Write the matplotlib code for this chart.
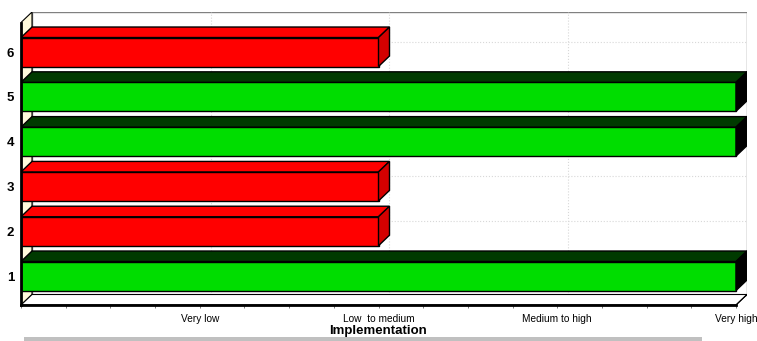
import matplotlib
matplotlib.use("Agg")
import matplotlib.pyplot as plt
from matplotlib.patches import Polygon, Rectangle
import numpy as np

plt.rcParams['font.family'] = ['Liberation Sans', 'DejaVu Sans']

# 数据
categories = [1, 2, 3, 4, 5, 6]
values = [4, 2, 2, 4, 4, 2]
level_labels = ['', 'Very low', 'Low  to medium', 'Medium to high', 'Very high']

# 颜色：正面 / 顶面 / 侧面
green = ('#00dd00', '#003a00', '#000000')
red = ('#ff0000', '#ff0000', '#d40000')

fig = plt.figure(figsize=(7.57, 3.41), dpi=100)
W, H = 757, 341
ax = fig.add_axes([21 / W, (H - 305) / H, 726 / W, 293 / H])

# 伪3D深度（数据单位）
dx = 11 / 178.75
dy = 10.5 / 44.8
y0 = 0.353
ytop = y0 + 293 / 44.8
xmax = 4
ax.set_xlim(0, xmax + dx)
ax.set_ylim(y0, ytop)

# 背板和网格线
ax.add_patch(Polygon([(dx, y0 + dy), (xmax + dx, y0 + dy), (xmax + dx, ytop), (dx, ytop)],
                     closed=True, facecolor='white', edgecolor='#808080', lw=1, zorder=1))
for k in range(1, xmax):
    ax.plot([k + dx, k + dx], [y0 + dy, ytop], color='#d8d8d8', lw=0.8, ls=':', zorder=1.5)
    ax.plot([k, k + dx], [y0, y0 + dy], color='#d8d8d8', lw=0.8, zorder=1.5)
for c in categories:
    ax.plot([dx, xmax + dx], [c + dy, c + dy], color='#d8d8d8', lw=0.8, ls=':', zorder=1.5)

# 左侧墙
ax.add_patch(Polygon([(0, y0), (dx, y0 + dy), (dx, ytop), (0, ytop - dy)],
                     closed=True, facecolor='#fffadc', edgecolor='black', lw=0.8, zorder=2))
# 底面
ax.add_patch(Polygon([(0, y0), (xmax, y0), (xmax + dx, y0 + dy), (dx, y0 + dy)],
                     closed=True, facecolor='white', edgecolor='black', lw=0.8, zorder=2))

# 条形
h = 0.647
cols = [green if v == 4 else red for v in values]
ax.barh(categories, values, height=h, color=[c[0] for c in cols],
        edgecolor='black', linewidth=1, zorder=3)
for c, v, col in zip(categories, values, cols):
    top = c + h / 2
    bot = c - h / 2
    ax.add_patch(Polygon([(0, top), (v, top), (v + dx, top + dy), (dx, top + dy)],
                         closed=True, facecolor=col[1], edgecolor='black', lw=1, zorder=3))
    ax.add_patch(Polygon([(v, bot), (v, top), (v + dx, top + dy), (v + dx, bot + dy)],
                         closed=True, facecolor=col[2], edgecolor='black', lw=1, zorder=3))

# 坐标轴线
ax.plot([0, 0], [y0, ytop - dy], color='black', lw=2, zorder=4, clip_on=False)
ax.plot([0, xmax], [y0, y0], color='black', lw=2, zorder=4, clip_on=False)
ax.plot([xmax, xmax + dx], [y0, y0 + dy], color='black', lw=0.8, zorder=4)

for s in ax.spines.values():
    s.set_visible(False)

ax.set_yticks(categories)
ax.set_yticklabels([str(c) for c in categories], fontsize=9.5, fontweight='bold')
ax.tick_params(axis='y', length=0, pad=5)

ax.set_xticks(range(len(level_labels)))
ax.set_xticklabels(level_labels, fontsize=7.3)
ax.set_xticks(np.arange(0, xmax + 0.01, 0.25), minor=True)
ax.tick_params(axis='x', which='both', length=2, width=0.6, color='#606060', pad=4.5)

fig.text(378 / W, 1 - 331 / H, 'Implementation', fontsize=9.5, fontweight='bold',
         ha='center', va='center')

# 底部灰色条
fig.add_artist(Rectangle((24 / W, 0), (702 - 24) / W, 4.5 / H, transform=fig.transFigure,
                         facecolor='#c0c0c0', edgecolor='none'))

fig.savefig('out.png', dpi=100)
